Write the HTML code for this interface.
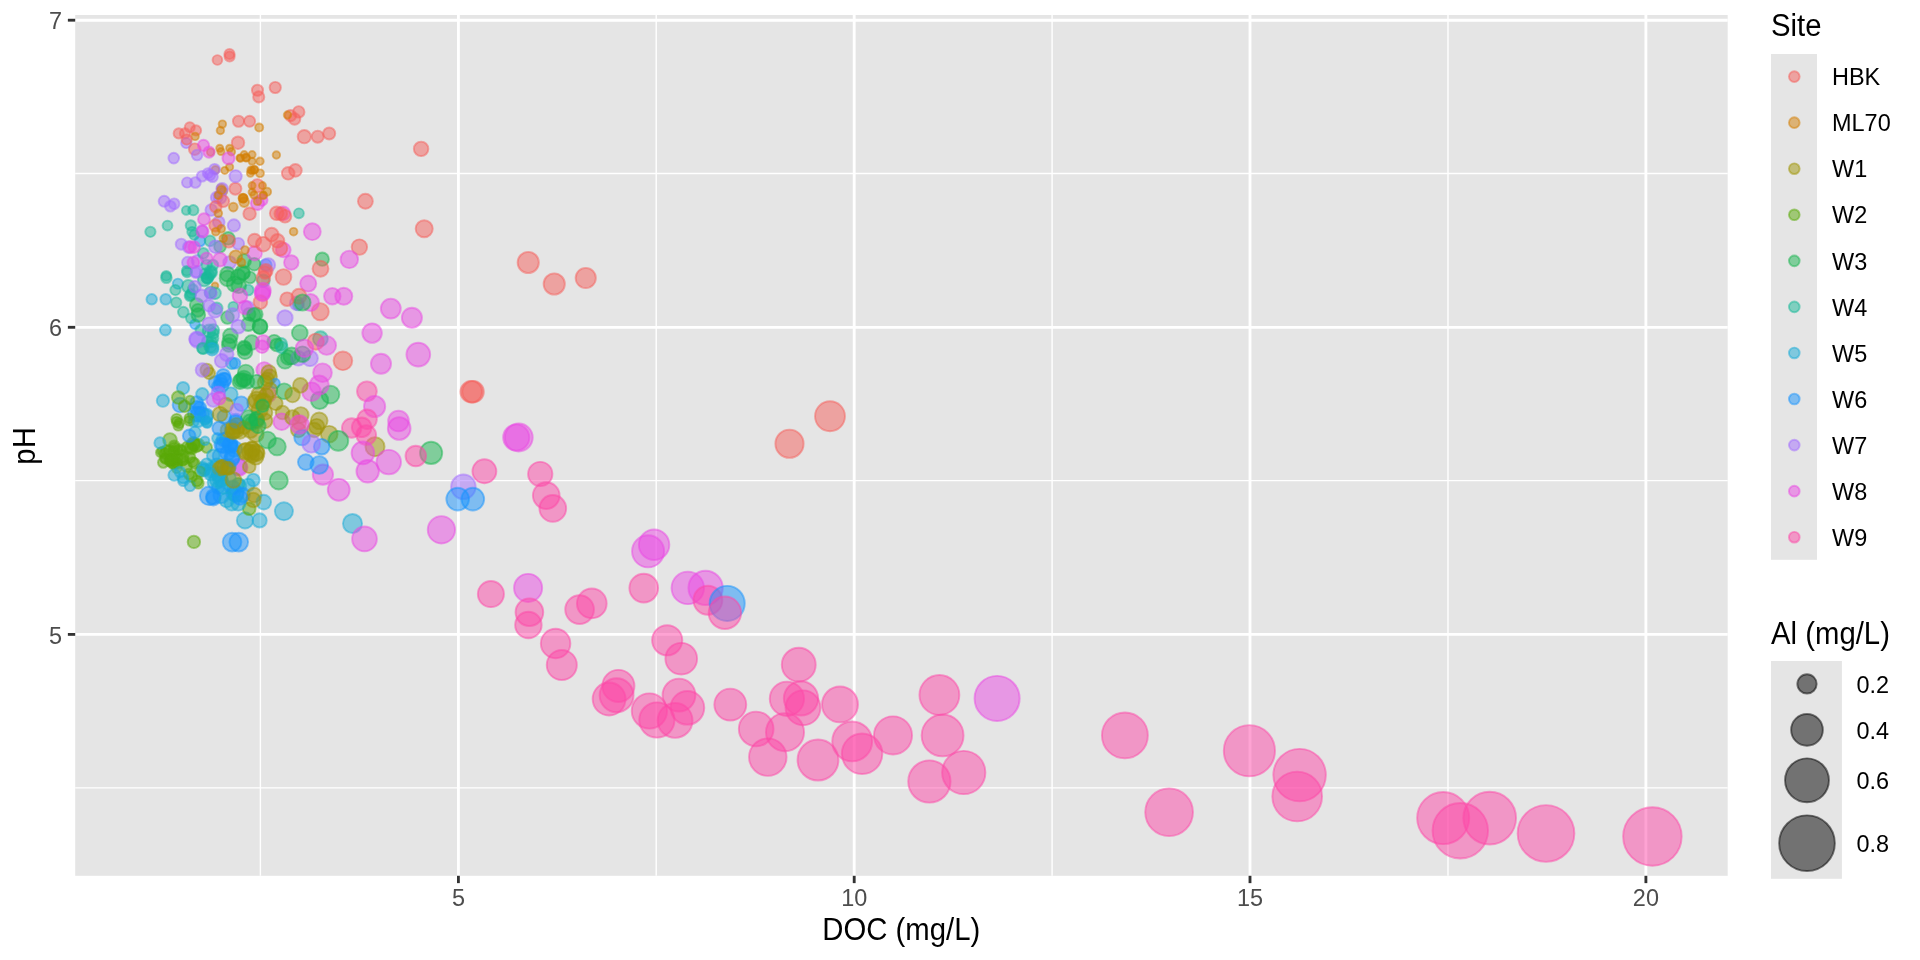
<!DOCTYPE html>
<html lang="en"><head><meta charset="utf-8"><title>pH vs DOC</title>
<style>html,body{margin:0;padding:0;background:#fff}body{width:1920px;height:960px;overflow:hidden}svg{display:block;will-change:transform}text{font-family:"Liberation Sans",Arial,Helvetica,sans-serif}.tk{font-size:23.47px;fill:#4D4D4D}.lb{font-size:23.47px;fill:#000}.tt{font-size:29.33px;fill:#000}.p circle{stroke-width:1.9;fill-opacity:0.5;stroke-opacity:0.5}
.cH{fill:#F55F5B;stroke:#F55F5B}
.cM{fill:#D37F05;stroke:#D37F05}
.c1{fill:#9F9507;stroke:#9F9507}
.c2{fill:#59A907;stroke:#59A907}
.c3{fill:#1BB551;stroke:#1BB551}
.c4{fill:#19B999;stroke:#19B999}
.c5{fill:#19ABD7;stroke:#19ABD7}
.c6{fill:#1793FD;stroke:#1793FD}
.c7{fill:#A36DFF;stroke:#A36DFF}
.c8{fill:#E949E3;stroke:#E949E3}
.c9{fill:#FE48A8;stroke:#FE48A8}
</style></head><body>
<svg width="1920" height="960" viewBox="0 0 1920 960">
<rect width="1920" height="960" fill="#fff"/>
<rect x="75.2" y="15" width="1652.5" height="860.8" fill="#E5E5E5"/>
<g stroke="#fff" stroke-width="1.42" fill="none">
<line x1="75.2" x2="1727.7" y1="173.5" y2="173.5"/>
<line x1="75.2" x2="1727.7" y1="480.6" y2="480.6"/>
<line x1="75.2" x2="1727.7" y1="787.9" y2="787.9"/>
<line x1="260.4" x2="260.4" y1="15" y2="875.8"/>
<line x1="656.2" x2="656.2" y1="15" y2="875.8"/>
<line x1="1052.1" x2="1052.1" y1="15" y2="875.8"/>
<line x1="1448" x2="1448" y1="15" y2="875.8"/>
</g><g stroke="#fff" stroke-width="2.85" fill="none">
<line x1="75.2" x2="1727.7" y1="20.2" y2="20.2"/>
<line x1="75.2" x2="1727.7" y1="327.3" y2="327.3"/>
<line x1="75.2" x2="1727.7" y1="634.4" y2="634.4"/>
<line x1="458.4" x2="458.4" y1="15" y2="875.8"/>
<line x1="854.2" x2="854.2" y1="15" y2="875.8"/>
<line x1="1250" x2="1250" y1="15" y2="875.8"/>
<line x1="1645.9" x2="1645.9" y1="15" y2="875.8"/>
</g>
<clipPath id="cp"><rect x="75.2" y="15" width="1652.5" height="860.8"/></clipPath>
<g class="p" clip-path="url(#cp)">
<circle class="c7" cx="238.3" cy="466.7" r="8.35"/>
<circle class="c8" cx="239.2" cy="467.5" r="8.35"/>
<circle class="c3" cx="220" cy="246.7" r="5.85"/>
<circle class="c6" cx="200" cy="241" r="5.35"/>
<circle class="c6" cx="265.8" cy="265" r="5.85"/>
<circle class="c4" cx="298.3" cy="305" r="5.35"/>
<circle class="cM" cx="215" cy="285.8" r="3.35"/>
<circle class="c7" cx="296.7" cy="303.3" r="6.85"/>
<circle class="c8" cx="264.2" cy="370" r="7.85"/>
<circle class="c8" cx="268.3" cy="394.2" r="7.85"/>
<circle class="c3" cx="330.4" cy="394.6" r="8.95"/>
<circle class="c3" cx="319.6" cy="400.4" r="8.65"/>
<circle class="c3" cx="238.3" cy="484.2" r="6.35"/>
<circle class="c2" cx="174" cy="451.7" r="5.55"/>
<circle class="c2" cx="165.5" cy="458.6" r="5.15"/>
<circle class="c2" cx="165" cy="458.1" r="4.75"/>
<circle class="c2" cx="177.7" cy="450.3" r="4.75"/>
<circle class="c2" cx="177.4" cy="463.9" r="4.85"/>
<circle class="c2" cx="170.6" cy="460.3" r="5.95"/>
<circle class="c2" cx="182.6" cy="456.1" r="6.05"/>
<circle class="c2" cx="172.8" cy="451.6" r="4.85"/>
<circle class="c2" cx="173.5" cy="463.7" r="4.95"/>
<circle class="c2" cx="182.8" cy="460.5" r="5.15"/>
<circle class="c2" cx="181.6" cy="450.1" r="4.75"/>
<circle class="c2" cx="170" cy="461.2" r="5.25"/>
<circle class="c2" cx="173.7" cy="459.5" r="5.25"/>
<circle class="c2" cx="173.2" cy="463.3" r="5.65"/>
<circle class="c2" cx="171.3" cy="459.3" r="5.35"/>
<circle class="c2" cx="192.8" cy="462.1" r="5.05"/>
<circle class="c2" cx="177.2" cy="462.6" r="4.85"/>
<circle class="c2" cx="179.6" cy="449.7" r="5.55"/>
<circle class="c2" cx="196.2" cy="445.9" r="6.35"/>
<circle class="c2" cx="190.8" cy="447.3" r="5.95"/>
<circle class="c2" cx="194" cy="444.5" r="6.35"/>
<circle class="c2" cx="198.3" cy="444.7" r="6.05"/>
<circle class="c2" cx="187.7" cy="447.4" r="6.05"/>
<circle class="c2" cx="166.6" cy="450.6" r="5.55"/>
<circle class="c2" cx="162.4" cy="451.5" r="4.85"/>
<circle class="c2" cx="174.3" cy="447.6" r="4.95"/>
<circle class="c5" cx="218.1" cy="487.7" r="6.25"/>
<circle class="c5" cx="220.2" cy="479.3" r="7.35"/>
<circle class="c5" cx="233.5" cy="487.5" r="6.55"/>
<circle class="c5" cx="219" cy="474.3" r="7.35"/>
<circle class="c5" cx="210.3" cy="471" r="6.45"/>
<circle class="c5" cx="221.5" cy="480.3" r="6.55"/>
<circle class="c5" cx="217.3" cy="479.7" r="7.45"/>
<circle class="c5" cx="228.9" cy="478.4" r="7.05"/>
<circle class="c5" cx="228.3" cy="466.4" r="7.45"/>
<circle class="c5" cx="232.1" cy="487.7" r="7.25"/>
<circle class="c5" cx="218.1" cy="475.4" r="6.25"/>
<circle class="c5" cx="226.8" cy="466.6" r="6.25"/>
<circle class="c5" cx="211.5" cy="469.2" r="6.65"/>
<circle class="c5" cx="217.1" cy="465.7" r="7.35"/>
<circle class="c5" cx="206.8" cy="464.4" r="6.05"/>
<circle class="c5" cx="202.6" cy="467.8" r="5.85"/>
<circle class="c5" cx="204.5" cy="469.7" r="5.75"/>
<circle class="c5" cx="193.6" cy="421.7" r="5.05"/>
<circle class="c5" cx="205.3" cy="420.3" r="4.65"/>
<circle class="c5" cx="207.2" cy="423.2" r="4.85"/>
<circle class="c6" cx="226.8" cy="439.6" r="7.35"/>
<circle class="c6" cx="229.5" cy="444.7" r="7.15"/>
<circle class="c6" cx="220" cy="456" r="7.35"/>
<circle class="c6" cx="231" cy="446.3" r="6.95"/>
<circle class="c6" cx="232.3" cy="456.7" r="7.75"/>
<circle class="c6" cx="230.3" cy="444" r="7.35"/>
<circle class="c6" cx="223.4" cy="439.6" r="6.65"/>
<circle class="c6" cx="222" cy="444.7" r="7.65"/>
<circle class="c6" cx="234.2" cy="448.8" r="7.95"/>
<circle class="c6" cx="199.8" cy="408.1" r="6.45"/>
<circle class="c6" cx="197.1" cy="407.9" r="7.05"/>
<circle class="c6" cx="201.7" cy="414.1" r="7.25"/>
<circle class="c6" cx="195.4" cy="414.2" r="7.45"/>
<circle class="c6" cx="206.5" cy="415.5" r="6.85"/>
<circle class="c6" cx="213.4" cy="498.3" r="7.15"/>
<circle class="c6" cx="221.3" cy="495.2" r="7.95"/>
<circle class="c6" cx="233.1" cy="493.4" r="6.85"/>
<circle class="c6" cx="236" cy="493.2" r="7.85"/>
<circle class="c6" cx="220.5" cy="380.7" r="6.35"/>
<circle class="c6" cx="223.5" cy="380.4" r="7.45"/>
<circle class="c6" cx="221.3" cy="385.2" r="7.35"/>
<circle class="c1" cx="232.5" cy="427.5" r="7.05"/>
<circle class="c1" cx="233.3" cy="432.2" r="7.05"/>
<circle class="c1" cx="237.9" cy="425.8" r="7.95"/>
<circle class="c1" cx="236.2" cy="430.4" r="7.45"/>
<circle class="c1" cx="250.5" cy="429.9" r="7.95"/>
<circle class="c1" cx="240" cy="431.4" r="7.35"/>
<circle class="c1" cx="227.5" cy="430.2" r="6.95"/>
<circle class="c1" cx="245.1" cy="451.7" r="8.15"/>
<circle class="c1" cx="252" cy="449.9" r="7.85"/>
<circle class="c1" cx="252" cy="455.4" r="7.25"/>
<circle class="c1" cx="252.1" cy="449" r="7.55"/>
<circle class="c1" cx="255.9" cy="452.1" r="7.95"/>
<circle class="c1" cx="255.7" cy="456.9" r="7.75"/>
<circle class="c1" cx="262" cy="402.1" r="7.85"/>
<circle class="c1" cx="263.5" cy="401.1" r="7.85"/>
<circle class="c1" cx="259.6" cy="409.9" r="8.15"/>
<circle class="c1" cx="255.7" cy="403.1" r="8.45"/>
<circle class="c1" cx="266.1" cy="395.5" r="7.35"/>
<circle class="c1" cx="259" cy="394.3" r="7.45"/>
<circle class="c1" cx="220" cy="468.4" r="7.25"/>
<circle class="c1" cx="229" cy="468.3" r="6.35"/>
<circle class="c1" cx="224.6" cy="466.9" r="7.55"/>
<circle class="c1" cx="269.7" cy="376.6" r="7.25"/>
<circle class="c1" cx="267.1" cy="379.4" r="6.95"/>
<circle class="c4" cx="207.2" cy="278.2" r="5.15"/>
<circle class="c4" cx="209.5" cy="275.4" r="5.15"/>
<circle class="c4" cx="207.3" cy="277.2" r="5.85"/>
<circle class="c4" cx="205" cy="273.7" r="5.25"/>
<circle class="c4" cx="213.2" cy="333.4" r="5.35"/>
<circle class="c4" cx="210.4" cy="346.2" r="6.25"/>
<circle class="c4" cx="209.1" cy="331" r="6.45"/>
<circle class="c4" cx="211.6" cy="342" r="5.25"/>
<circle class="c4" cx="207.5" cy="341.8" r="5.75"/>
<circle class="c4" cx="191.1" cy="293.6" r="4.75"/>
<circle class="c4" cx="192.9" cy="289.4" r="5.15"/>
<circle class="c4" cx="190.4" cy="295.1" r="5.05"/>
<circle class="c3" cx="241.1" cy="380.2" r="6.95"/>
<circle class="c3" cx="244" cy="378.4" r="7.75"/>
<circle class="c3" cx="243.6" cy="380" r="6.85"/>
<circle class="c3" cx="198" cy="310.3" r="6.45"/>
<circle class="c3" cx="251.6" cy="423.5" r="6.75"/>
<circle class="c3" cx="256.5" cy="419.5" r="7.35"/>
<circle class="c3" cx="256.7" cy="419.1" r="7.35"/>
<circle class="c3" cx="234.4" cy="284" r="7.65"/>
<circle class="c9" cx="1443.2" cy="818.1" r="26.05"/>
<circle class="c9" cx="1460.3" cy="830.7" r="27.75"/>
<circle class="c9" cx="1489.7" cy="818.1" r="26.35"/>
<circle class="c9" cx="1546" cy="833.5" r="28.35"/>
<circle class="c9" cx="1652.4" cy="836.5" r="29.25"/>
<circle class="c9" cx="1124.9" cy="735.4" r="22.95"/>
<circle class="c9" cx="1249.4" cy="750.75" r="25.6"/>
<circle class="c9" cx="1299.6" cy="775.1" r="26.25"/>
<circle class="c9" cx="1297.2" cy="796.5" r="24.85"/>
<circle class="c9" cx="1169.1" cy="812.25" r="23.85"/>
<circle class="c9" cx="798.75" cy="664.7" r="16.95"/>
<circle class="c9" cx="730.3" cy="704.6" r="15.95"/>
<circle class="c9" cx="786.9" cy="698.8" r="17.15"/>
<circle class="c9" cx="801" cy="698.4" r="17.15"/>
<circle class="c9" cx="803" cy="707.8" r="17.45"/>
<circle class="c9" cx="840" cy="704.4" r="17.95"/>
<circle class="c9" cx="756.2" cy="729" r="17.35"/>
<circle class="c9" cx="785" cy="732.2" r="19.05"/>
<circle class="c9" cx="767.8" cy="757.1" r="18.75"/>
<circle class="c9" cx="818" cy="760" r="20.45"/>
<circle class="c9" cx="852.2" cy="741.4" r="19.95"/>
<circle class="c9" cx="862.1" cy="753.75" r="20.25"/>
<circle class="c9" cx="893" cy="735.4" r="19.05"/>
<circle class="c9" cx="939.4" cy="695" r="19.95"/>
<circle class="c9" cx="942.6" cy="735.4" r="20.95"/>
<circle class="c9" cx="929.4" cy="781.5" r="21.15"/>
<circle class="c9" cx="963.75" cy="772.5" r="21.65"/>
<circle class="c8" cx="997.1" cy="698.4" r="22.55"/>
<circle class="c9" cx="528.4" cy="625" r="13.25"/>
<circle class="c9" cx="555.6" cy="643.5" r="14.75"/>
<circle class="c9" cx="561.8" cy="665" r="15.05"/>
<circle class="c9" cx="667.2" cy="640.3" r="15.1"/>
<circle class="c9" cx="681.25" cy="658.7" r="15.85"/>
<circle class="c9" cx="618.4" cy="685.9" r="16.05"/>
<circle class="c9" cx="616.6" cy="695.25" r="16.95"/>
<circle class="c9" cx="609.1" cy="699" r="16.45"/>
<circle class="c9" cx="649.4" cy="711" r="17.65"/>
<circle class="c9" cx="656.9" cy="720" r="17.65"/>
<circle class="c9" cx="675.1" cy="720.4" r="17.45"/>
<circle class="c9" cx="679" cy="695.1" r="16.45"/>
<circle class="c9" cx="687.4" cy="707.8" r="16.85"/>
<circle class="c9" cx="484.4" cy="471.25" r="11.95"/>
<circle class="c7" cx="463.4" cy="486.8" r="12.25"/>
<circle class="c6" cx="472.8" cy="499.1" r="11.35"/>
<circle class="c6" cx="457.7" cy="499.1" r="11.35"/>
<circle class="c9" cx="540.25" cy="474" r="12.15"/>
<circle class="c9" cx="546.25" cy="495.6" r="13.35"/>
<circle class="c9" cx="552.8" cy="508.4" r="13.35"/>
<circle class="c8" cx="654.1" cy="544.75" r="15.25"/>
<circle class="c8" cx="648.1" cy="551.3" r="16.05"/>
<circle class="c9" cx="490.9" cy="594.1" r="13.05"/>
<circle class="c8" cx="528.1" cy="587.9" r="14.05"/>
<circle class="c9" cx="529.4" cy="612.25" r="13.85"/>
<circle class="c9" cx="579.6" cy="609.6" r="14.35"/>
<circle class="c9" cx="591.8" cy="603.4" r="14.85"/>
<circle class="c9" cx="643.75" cy="588.1" r="14.35"/>
<circle class="c8" cx="687.8" cy="587.9" r="16.25"/>
<circle class="c8" cx="705.6" cy="587.9" r="17.15"/>
<circle class="c9" cx="707.9" cy="600.25" r="14.45"/>
<circle class="c6" cx="727.2" cy="603.4" r="17.55"/>
<circle class="c9" cx="724.9" cy="612.8" r="16.25"/>
<circle class="cH" cx="528.25" cy="262.5" r="10.6"/>
<circle class="cH" cx="554.25" cy="284" r="10.6"/>
<circle class="cH" cx="585.75" cy="278" r="10.1"/>
<circle class="cH" cx="830" cy="416.25" r="14.95"/>
<circle class="cH" cx="789.5" cy="443.75" r="14.1"/>
<circle class="cH" cx="471.25" cy="391.75" r="10.85"/>
<circle class="cH" cx="473" cy="391.75" r="10.85"/>
<circle class="c8" cx="516.25" cy="437.5" r="13.1"/>
<circle class="c8" cx="518.75" cy="437.5" r="13.95"/>
<circle class="cH" cx="217.4" cy="60" r="4.85"/>
<circle class="cH" cx="229.5" cy="54" r="5.1"/>
<circle class="cH" cx="229.6" cy="56.5" r="5.1"/>
<circle class="cH" cx="257.5" cy="90.25" r="5.6"/>
<circle class="cH" cx="258.75" cy="96.9" r="5.6"/>
<circle class="cH" cx="275.25" cy="87.5" r="5.65"/>
<circle class="cH" cx="298.75" cy="111.9" r="5.75"/>
<circle class="cH" cx="290.6" cy="115.6" r="5.65"/>
<circle class="cH" cx="294.6" cy="119" r="5.75"/>
<circle class="cM" cx="287.5" cy="115" r="3.75"/>
<circle class="cH" cx="238.5" cy="121.25" r="5.6"/>
<circle class="cH" cx="249.6" cy="121.25" r="5.55"/>
<circle class="cH" cx="304.3" cy="136.7" r="6.65"/>
<circle class="cH" cx="317.7" cy="136.7" r="6.05"/>
<circle class="cH" cx="329.2" cy="133.5" r="6.05"/>
<circle class="cM" cx="222.4" cy="124.1" r="3.75"/>
<circle class="cM" cx="220.4" cy="130.5" r="3.75"/>
<circle class="cM" cx="259.2" cy="127.5" r="4.05"/>
<circle class="cH" cx="189.8" cy="127.3" r="5.05"/>
<circle class="cH" cx="196" cy="130.4" r="5.15"/>
<circle class="cH" cx="178.75" cy="133.4" r="5.15"/>
<circle class="cH" cx="185" cy="133.4" r="5.15"/>
<circle class="cM" cx="195.1" cy="136.4" r="3.75"/>
<circle class="c7" cx="186.25" cy="143" r="5.15"/>
<circle class="cH" cx="186.7" cy="139.5" r="5.15"/>
<circle class="cH" cx="194.75" cy="149.2" r="5.85"/>
<circle class="cH" cx="238" cy="142.7" r="6.25"/>
<circle class="cH" cx="288.2" cy="173.3" r="6.35"/>
<circle class="cH" cx="295.4" cy="170.4" r="6.35"/>
<circle class="cH" cx="235.4" cy="188.75" r="6.05"/>
<circle class="cH" cx="257.5" cy="185.8" r="6.65"/>
<circle class="cM" cx="210.6" cy="152.1" r="3.75"/>
<circle class="cM" cx="219.75" cy="148.3" r="3.55"/>
<circle class="cM" cx="221" cy="151.5" r="3.55"/>
<circle class="cM" cx="229.6" cy="148.3" r="3.55"/>
<circle class="cM" cx="231.4" cy="151.8" r="3.75"/>
<circle class="cM" cx="240" cy="157.9" r="3.55"/>
<circle class="cM" cx="244.2" cy="154.6" r="3.55"/>
<circle class="cM" cx="246.25" cy="157.9" r="3.75"/>
<circle class="cM" cx="252.1" cy="154.6" r="3.55"/>
<circle class="cM" cx="252.1" cy="161.25" r="3.55"/>
<circle class="cM" cx="260" cy="161.25" r="3.75"/>
<circle class="cM" cx="276.4" cy="155" r="3.75"/>
<circle class="cM" cx="215.4" cy="170" r="3.95"/>
<circle class="cM" cx="224.75" cy="170.4" r="3.55"/>
<circle class="cM" cx="229.6" cy="167.1" r="3.65"/>
<circle class="cM" cx="250.8" cy="170" r="3.55"/>
<circle class="cM" cx="254.2" cy="170" r="3.75"/>
<circle class="cM" cx="250.4" cy="173.3" r="3.55"/>
<circle class="cM" cx="260" cy="173.3" r="3.95"/>
<circle class="cM" cx="221.25" cy="188.3" r="4.35"/>
<circle class="cM" cx="223.3" cy="191.25" r="3.95"/>
<circle class="cM" cx="217.9" cy="195" r="3.55"/>
<circle class="cM" cx="252.1" cy="185.6" r="3.55"/>
<circle class="cM" cx="262.5" cy="185.6" r="3.55"/>
<circle class="cM" cx="252.1" cy="192.1" r="3.55"/>
<circle class="cM" cx="267.1" cy="191.7" r="4.05"/>
<circle class="cM" cx="243.1" cy="198" r="4.35"/>
<circle class="cM" cx="263.3" cy="195" r="3.55"/>
<circle class="c7" cx="173.75" cy="158.1" r="5.35"/>
<circle class="c7" cx="197.1" cy="155" r="5.35"/>
<circle class="c7" cx="187.1" cy="182.5" r="5.15"/>
<circle class="c7" cx="195.4" cy="182.5" r="5.35"/>
<circle class="c7" cx="202.1" cy="176.25" r="5.35"/>
<circle class="c7" cx="207.9" cy="173.3" r="5.15"/>
<circle class="c7" cx="212.5" cy="176.7" r="5.35"/>
<circle class="c7" cx="214.6" cy="169.2" r="5.35"/>
<circle class="c7" cx="210" cy="175" r="5.35"/>
<circle class="c7" cx="235.6" cy="176.25" r="6.15"/>
<circle class="c7" cx="222.1" cy="188.75" r="5.85"/>
<circle class="c7" cx="216.7" cy="197.5" r="5.85"/>
<circle class="c8" cx="203.5" cy="145.4" r="5.6"/>
<circle class="c8" cx="209" cy="152.1" r="5.6"/>
<circle class="c8" cx="228.5" cy="158.3" r="6.05"/>
<circle class="cH" cx="421.1" cy="148.9" r="7.25"/>
<circle class="c7" cx="164.2" cy="201.25" r="5.55"/>
<circle class="c7" cx="170.4" cy="206.25" r="5.35"/>
<circle class="c7" cx="174.2" cy="203.75" r="5.35"/>
<circle class="c7" cx="211.25" cy="210" r="5.85"/>
<circle class="c7" cx="218.75" cy="222.1" r="5.85"/>
<circle class="c7" cx="233.9" cy="225.4" r="6.15"/>
<circle class="c7" cx="181.25" cy="244.2" r="5.55"/>
<circle class="c7" cx="188.75" cy="247.1" r="5.85"/>
<circle class="c7" cx="202.1" cy="230.8" r="5.65"/>
<circle class="c7" cx="238.3" cy="243.75" r="5.85"/>
<circle class="c7" cx="187.9" cy="262.5" r="5.85"/>
<circle class="c7" cx="197.5" cy="260.8" r="5.85"/>
<circle class="c7" cx="229.6" cy="262.5" r="6.35"/>
<circle class="c7" cx="268.3" cy="265" r="6.85"/>
<circle class="c7" cx="220" cy="197.5" r="6.35"/>
<circle class="c7" cx="196.7" cy="271.7" r="5.85"/>
<circle class="c4" cx="186.25" cy="210.4" r="4.35"/>
<circle class="c4" cx="193.3" cy="210.2" r="5.15"/>
<circle class="c4" cx="150.4" cy="231.8" r="5.15"/>
<circle class="c4" cx="167.5" cy="225.6" r="4.95"/>
<circle class="c4" cx="190.8" cy="225.4" r="5.15"/>
<circle class="c4" cx="192.1" cy="231.7" r="4.85"/>
<circle class="c4" cx="194.2" cy="235" r="4.85"/>
<circle class="c4" cx="210" cy="240.8" r="5.35"/>
<circle class="c4" cx="298.9" cy="213.3" r="4.95"/>
<circle class="c4" cx="203.3" cy="253.3" r="5.35"/>
<circle class="c4" cx="206.7" cy="265" r="5.35"/>
<circle class="c4" cx="212.9" cy="265" r="5.35"/>
<circle class="c4" cx="186.7" cy="270.8" r="4.85"/>
<circle class="c4" cx="166.25" cy="275.8" r="4.85"/>
<circle class="c4" cx="210.8" cy="272.5" r="5.35"/>
<circle class="c3" cx="228.3" cy="238.3" r="6.35"/>
<circle class="c3" cx="244.2" cy="260.8" r="6.85"/>
<circle class="c3" cx="254.2" cy="264.2" r="6.35"/>
<circle class="c3" cx="227.5" cy="274.2" r="7.35"/>
<circle class="c3" cx="242.5" cy="272.5" r="7.35"/>
<circle class="c8" cx="204" cy="219.2" r="5.95"/>
<circle class="c8" cx="202.5" cy="231.7" r="5.95"/>
<circle class="c8" cx="190.4" cy="247.1" r="5.85"/>
<circle class="c8" cx="194.2" cy="247.1" r="5.85"/>
<circle class="c8" cx="254.6" cy="253.3" r="7.15"/>
<circle class="c8" cx="257.5" cy="203.3" r="6.65"/>
<circle class="c8" cx="261.7" cy="200" r="5.85"/>
<circle class="c8" cx="283.3" cy="213.3" r="6.85"/>
<circle class="c8" cx="283.3" cy="250" r="7.35"/>
<circle class="c8" cx="291.3" cy="262.5" r="7.25"/>
<circle class="c8" cx="193.3" cy="262.5" r="5.85"/>
<circle class="c8" cx="220" cy="259.6" r="6.85"/>
<circle class="c8" cx="206.7" cy="258.3" r="5.85"/>
<circle class="cH" cx="249.6" cy="213.75" r="6.25"/>
<circle class="cH" cx="276.7" cy="213.3" r="6.85"/>
<circle class="cH" cx="285" cy="216.25" r="6.35"/>
<circle class="cH" cx="280.8" cy="213.75" r="6.35"/>
<circle class="cH" cx="215.8" cy="206.7" r="5.85"/>
<circle class="cH" cx="223.3" cy="201.25" r="5.85"/>
<circle class="cH" cx="215.4" cy="225.4" r="6.15"/>
<circle class="cH" cx="228.75" cy="241.25" r="6.35"/>
<circle class="cH" cx="254.6" cy="240.4" r="6.65"/>
<circle class="cH" cx="263.3" cy="244.2" r="7.35"/>
<circle class="cH" cx="271.7" cy="234.6" r="6.85"/>
<circle class="cH" cx="277.5" cy="240.8" r="6.85"/>
<circle class="cH" cx="280" cy="248.3" r="7.35"/>
<circle class="cH" cx="265.8" cy="270.8" r="6.85"/>
<circle class="cH" cx="283.5" cy="277" r="7.85"/>
<circle class="cM" cx="257.5" cy="201.25" r="3.85"/>
<circle class="cM" cx="233.3" cy="207.1" r="4.35"/>
<circle class="cM" cx="242.9" cy="198.3" r="4.35"/>
<circle class="cM" cx="244.2" cy="202.1" r="4.85"/>
<circle class="cM" cx="218.3" cy="213.3" r="3.85"/>
<circle class="cM" cx="221.25" cy="228.75" r="3.85"/>
<circle class="cM" cx="215.8" cy="231.7" r="3.85"/>
<circle class="cM" cx="223.3" cy="238.3" r="3.85"/>
<circle class="cM" cx="293.6" cy="231.7" r="3.85"/>
<circle class="cM" cx="235.8" cy="256.7" r="6.35"/>
<circle class="cM" cx="241.25" cy="262.5" r="4.15"/>
<circle class="cM" cx="245" cy="250" r="3.85"/>
<circle class="cM" cx="218.3" cy="195.4" r="3.65"/>
<circle class="cM" cx="263.3" cy="195.4" r="3.65"/>
<circle class="cM" cx="254" cy="195" r="3.65"/>
<circle class="cH" cx="365.4" cy="201.25" r="7.45"/>
<circle class="c8" cx="312.3" cy="231.7" r="8.45"/>
<circle class="cH" cx="424.2" cy="228.75" r="8.55"/>
<circle class="cH" cx="359.4" cy="247.1" r="7.75"/>
<circle class="c8" cx="349.3" cy="259.4" r="8.75"/>
<circle class="c3" cx="322.25" cy="259.2" r="6.65"/>
<circle class="cH" cx="320.5" cy="268.75" r="7.95"/>
<circle class="c5" cx="151.7" cy="299.3" r="5.25"/>
<circle class="c5" cx="165.7" cy="299.3" r="5.35"/>
<circle class="c5" cx="165.4" cy="330" r="5.45"/>
<circle class="c5" cx="177.9" cy="283.75" r="5.15"/>
<circle class="c6" cx="195" cy="324.2" r="4.85"/>
<circle class="c4" cx="166.4" cy="277.75" r="5.35"/>
<circle class="c4" cx="187.1" cy="272.5" r="4.85"/>
<circle class="c4" cx="175.4" cy="290" r="5.15"/>
<circle class="c4" cx="176.25" cy="302.5" r="5.15"/>
<circle class="c4" cx="183.3" cy="312.1" r="5.35"/>
<circle class="c4" cx="188.3" cy="286.25" r="6.35"/>
<circle class="c4" cx="190" cy="295.8" r="5.35"/>
<circle class="c4" cx="190.8" cy="318.3" r="4.85"/>
<circle class="c4" cx="204.2" cy="280" r="6.35"/>
<circle class="c4" cx="207.5" cy="278.3" r="5.35"/>
<circle class="c4" cx="210.8" cy="272.1" r="6.35"/>
<circle class="c4" cx="215" cy="293.3" r="5.85"/>
<circle class="c4" cx="210.4" cy="292.5" r="5.85"/>
<circle class="c4" cx="216.7" cy="308.3" r="5.85"/>
<circle class="c4" cx="248.3" cy="290" r="5.35"/>
<circle class="c4" cx="233.3" cy="306.7" r="4.85"/>
<circle class="c4" cx="200.8" cy="330" r="5.35"/>
<circle class="c4" cx="213.3" cy="330" r="5.85"/>
<circle class="c4" cx="212.5" cy="338.3" r="5.85"/>
<circle class="c4" cx="212.1" cy="347.1" r="6.35"/>
<circle class="c4" cx="203.3" cy="348.3" r="5.85"/>
<circle class="c4" cx="280.8" cy="344.2" r="6.35"/>
<circle class="c4" cx="263.3" cy="280.8" r="6.35"/>
<circle class="c3" cx="227.5" cy="278.3" r="7.85"/>
<circle class="c3" cx="238.3" cy="276.7" r="7.35"/>
<circle class="c3" cx="238.75" cy="285.8" r="7.35"/>
<circle class="c3" cx="243.3" cy="273.3" r="6.35"/>
<circle class="c3" cx="250" cy="277.5" r="5.85"/>
<circle class="c3" cx="196.7" cy="305" r="6.85"/>
<circle class="c3" cx="198.3" cy="315" r="6.85"/>
<circle class="c3" cx="227.5" cy="317.5" r="6.35"/>
<circle class="c3" cx="249.2" cy="314.2" r="6.35"/>
<circle class="c3" cx="255.8" cy="314.2" r="6.85"/>
<circle class="c3" cx="248.3" cy="324.2" r="6.85"/>
<circle class="c3" cx="260" cy="326.7" r="7.35"/>
<circle class="c3" cx="230.4" cy="335.8" r="7.35"/>
<circle class="c3" cx="229.6" cy="341.7" r="7.35"/>
<circle class="c3" cx="251.7" cy="342.5" r="7.35"/>
<circle class="c3" cx="244.2" cy="347.5" r="6.85"/>
<circle class="c3" cx="274.2" cy="341.7" r="6.85"/>
<circle class="c7" cx="195.8" cy="272.5" r="5.35"/>
<circle class="c7" cx="195" cy="286.7" r="5.85"/>
<circle class="c7" cx="201.7" cy="295.8" r="6.35"/>
<circle class="c7" cx="210.8" cy="293.3" r="5.85"/>
<circle class="c7" cx="209.2" cy="305.8" r="5.85"/>
<circle class="c7" cx="215" cy="310.8" r="6.85"/>
<circle class="c7" cx="209.2" cy="324.2" r="6.85"/>
<circle class="c7" cx="232.5" cy="315" r="6.85"/>
<circle class="c7" cx="238.3" cy="326.7" r="6.85"/>
<circle class="c7" cx="285" cy="317.9" r="7.65"/>
<circle class="c7" cx="197.5" cy="340" r="7.85"/>
<circle class="c7" cx="196.5" cy="339" r="7.35"/>
<circle class="c7" cx="247.5" cy="307.5" r="6.35"/>
<circle class="c8" cx="240" cy="295.8" r="7.35"/>
<circle class="c8" cx="262.5" cy="292.5" r="7.85"/>
<circle class="c8" cx="245" cy="307.5" r="6.85"/>
<circle class="c8" cx="263.3" cy="342.5" r="7.35"/>
<circle class="cH" cx="263.3" cy="277.9" r="6.85"/>
<circle class="cH" cx="265" cy="272.5" r="6.35"/>
<circle class="cH" cx="260.4" cy="302.1" r="6.85"/>
<circle class="cH" cx="287.1" cy="299.2" r="6.85"/>
<circle class="c8" cx="308.2" cy="283.6" r="8.05"/>
<circle class="c8" cx="332.3" cy="296.25" r="8.25"/>
<circle class="c8" cx="343.75" cy="296.25" r="8.55"/>
<circle class="c8" cx="390.8" cy="308.6" r="9.95"/>
<circle class="c8" cx="411.9" cy="317.75" r="10.05"/>
<circle class="c8" cx="372.1" cy="333.1" r="9.75"/>
<circle class="cH" cx="320.25" cy="311.7" r="8.55"/>
<circle class="cH" cx="299" cy="296.25" r="7.45"/>
<circle class="c8" cx="310.4" cy="302.5" r="8.55"/>
<circle class="c3" cx="302.5" cy="302.5" r="8.1"/>
<circle class="c3" cx="299.8" cy="332.9" r="7.85"/>
<circle class="c4" cx="320.4" cy="338.75" r="7.45"/>
<circle class="cH" cx="315.8" cy="341.7" r="8.1"/>
<circle class="c8" cx="326.7" cy="345.5" r="9.35"/>
<circle class="c5" cx="162.9" cy="400.7" r="6.15"/>
<circle class="c5" cx="183.1" cy="388.1" r="6.15"/>
<circle class="c5" cx="202.3" cy="394.2" r="6.15"/>
<circle class="c5" cx="212.1" cy="349.2" r="6.35"/>
<circle class="c5" cx="231.7" cy="363.3" r="5.85"/>
<circle class="c5" cx="230.8" cy="394.2" r="6.85"/>
<circle class="c5" cx="205" cy="416.7" r="7.35"/>
<circle class="c6" cx="223.3" cy="375.8" r="6.85"/>
<circle class="c6" cx="215" cy="382.5" r="6.35"/>
<circle class="c6" cx="225" cy="379.2" r="6.35"/>
<circle class="c6" cx="218.3" cy="386.7" r="6.35"/>
<circle class="c6" cx="180" cy="405" r="7.35"/>
<circle class="c6" cx="196.7" cy="402.5" r="6.35"/>
<circle class="c6" cx="198.3" cy="414.2" r="7.35"/>
<circle class="c6" cx="241.25" cy="403.75" r="7.35"/>
<circle class="c6" cx="224.2" cy="416.7" r="6.85"/>
<circle class="c6" cx="235" cy="363.3" r="5.35"/>
<circle class="c6" cx="275" cy="383.3" r="4.85"/>
<circle class="c6" cx="235.8" cy="420" r="6.35"/>
<circle class="c2" cx="178.3" cy="397.5" r="6.35"/>
<circle class="c2" cx="184.6" cy="406.25" r="5.85"/>
<circle class="c2" cx="189.2" cy="418.3" r="4.85"/>
<circle class="c2" cx="176.7" cy="419.2" r="5.35"/>
<circle class="c2" cx="179.2" cy="423.3" r="4.85"/>
<circle class="c2" cx="190" cy="400" r="4.35"/>
<circle class="c1" cx="206.7" cy="370" r="6.35"/>
<circle class="c1" cx="209.2" cy="373.3" r="5.85"/>
<circle class="c1" cx="268.75" cy="372.5" r="7.35"/>
<circle class="c1" cx="265" cy="382.5" r="7.35"/>
<circle class="c1" cx="270" cy="390" r="7.35"/>
<circle class="c1" cx="256.7" cy="400" r="8.35"/>
<circle class="c1" cx="275.8" cy="403.3" r="6.85"/>
<circle class="c1" cx="282.5" cy="412.5" r="6.85"/>
<circle class="c1" cx="265" cy="412.5" r="7.35"/>
<circle class="c1" cx="225.8" cy="405" r="7.35"/>
<circle class="c1" cx="220" cy="414.2" r="7.35"/>
<circle class="c1" cx="235.8" cy="424.2" r="6.35"/>
<circle class="c3" cx="245" cy="351.7" r="7.35"/>
<circle class="c3" cx="228.75" cy="345" r="6.85"/>
<circle class="c3" cx="245.8" cy="372.5" r="7.85"/>
<circle class="c3" cx="240" cy="381.7" r="7.35"/>
<circle class="c3" cx="247.5" cy="381.7" r="6.85"/>
<circle class="c3" cx="256.7" cy="381.7" r="6.85"/>
<circle class="c3" cx="285" cy="360.8" r="7.85"/>
<circle class="c3" cx="288.3" cy="357.5" r="7.35"/>
<circle class="c3" cx="284.2" cy="391.25" r="7.85"/>
<circle class="c3" cx="276.7" cy="345" r="6.35"/>
<circle class="c3" cx="248.3" cy="417.5" r="7.35"/>
<circle class="c3" cx="256.7" cy="420.8" r="7.35"/>
<circle class="c3" cx="262.5" cy="405.8" r="6.35"/>
<circle class="c4" cx="202.5" cy="348.3" r="5.35"/>
<circle class="c4" cx="281.7" cy="347.5" r="5.85"/>
<circle class="c7" cx="226.7" cy="354.2" r="6.85"/>
<circle class="c7" cx="221.7" cy="360.8" r="6.85"/>
<circle class="c7" cx="202.5" cy="370" r="6.85"/>
<circle class="c7" cx="218.3" cy="393.3" r="6.85"/>
<circle class="c7" cx="213.3" cy="400" r="6.85"/>
<circle class="c7" cx="236.7" cy="410" r="6.35"/>
<circle class="c8" cx="262.1" cy="346.7" r="6.35"/>
<circle class="c8" cx="219.2" cy="398.3" r="6.35"/>
<circle class="c8" cx="281.7" cy="421.7" r="8.35"/>
<circle class="c8" cx="418.3" cy="354.6" r="11.85"/>
<circle class="c8" cx="381" cy="363.75" r="10.05"/>
<circle class="cH" cx="342.9" cy="360.8" r="9.35"/>
<circle class="c7" cx="310" cy="358.3" r="7.85"/>
<circle class="c7" cx="298.3" cy="358.3" r="7.35"/>
<circle class="c3" cx="302.5" cy="354.2" r="7.85"/>
<circle class="c3" cx="291.7" cy="355.8" r="8.35"/>
<circle class="c8" cx="322.5" cy="372.75" r="9.35"/>
<circle class="c8" cx="319.2" cy="385" r="9.6"/>
<circle class="c8" cx="311.5" cy="391.7" r="9.35"/>
<circle class="c1" cx="300.4" cy="385.4" r="7.35"/>
<circle class="c1" cx="292.5" cy="395" r="7.35"/>
<circle class="c9" cx="366.9" cy="391.25" r="9.85"/>
<circle class="c8" cx="374.6" cy="406.5" r="10.6"/>
<circle class="c9" cx="367.1" cy="419.2" r="9.75"/>
<circle class="c9" cx="351.7" cy="428" r="9.75"/>
<circle class="c9" cx="361.7" cy="427.3" r="9.85"/>
<circle class="c8" cx="398.5" cy="421" r="10.35"/>
<circle class="c8" cx="399.2" cy="428.5" r="11.35"/>
<circle class="c1" cx="300.8" cy="415" r="7.85"/>
<circle class="c1" cx="292.5" cy="417.5" r="7.35"/>
<circle class="c1" cx="319.2" cy="420.8" r="8.35"/>
<circle class="c1" cx="316.7" cy="426.5" r="7.65"/>
<circle class="c2" cx="178.3" cy="425.8" r="4.85"/>
<circle class="c2" cx="176.7" cy="421.7" r="4.85"/>
<circle class="c2" cx="189.2" cy="420.8" r="4.85"/>
<circle class="c2" cx="170" cy="440" r="6.85"/>
<circle class="c2" cx="174.2" cy="445.8" r="5.35"/>
<circle class="c2" cx="160.8" cy="452.5" r="4.85"/>
<circle class="c2" cx="165" cy="453.3" r="5.35"/>
<circle class="c2" cx="169.2" cy="450.8" r="5.35"/>
<circle class="c2" cx="163.3" cy="462.5" r="5.35"/>
<circle class="c2" cx="171.7" cy="459.2" r="5.35"/>
<circle class="c2" cx="177.5" cy="458.3" r="5.35"/>
<circle class="c2" cx="183.3" cy="459.2" r="5.35"/>
<circle class="c2" cx="190" cy="457.5" r="5.35"/>
<circle class="c2" cx="193.3" cy="443.3" r="6.35"/>
<circle class="c2" cx="191.7" cy="449.2" r="5.35"/>
<circle class="c2" cx="206.7" cy="447.5" r="5.35"/>
<circle class="c2" cx="194.2" cy="463.3" r="5.35"/>
<circle class="c2" cx="176.7" cy="468.3" r="4.85"/>
<circle class="c2" cx="191.7" cy="476.7" r="5.35"/>
<circle class="c2" cx="198.3" cy="483.3" r="5.35"/>
<circle class="c2" cx="200" cy="471.7" r="5.35"/>
<circle class="c2" cx="186.7" cy="466.7" r="5.35"/>
<circle class="c5" cx="160" cy="442.9" r="5.65"/>
<circle class="c5" cx="174.2" cy="475" r="5.85"/>
<circle class="c5" cx="183.3" cy="480.8" r="5.35"/>
<circle class="c5" cx="190" cy="485.8" r="5.35"/>
<circle class="c5" cx="195" cy="432.5" r="5.85"/>
<circle class="c5" cx="205" cy="440.8" r="4.35"/>
<circle class="c5" cx="217.5" cy="438.3" r="5.35"/>
<circle class="c5" cx="213.3" cy="455.8" r="6.35"/>
<circle class="c5" cx="203.3" cy="470" r="6.35"/>
<circle class="c5" cx="210.8" cy="474.2" r="6.35"/>
<circle class="c5" cx="215" cy="482.5" r="7.35"/>
<circle class="c5" cx="223.3" cy="486.7" r="7.35"/>
<circle class="c5" cx="253.3" cy="480" r="6.35"/>
<circle class="c5" cx="248.3" cy="485" r="6.35"/>
<circle class="c5" cx="240" cy="485.8" r="6.35"/>
<circle class="c5" cx="235.8" cy="495" r="7.35"/>
<circle class="c5" cx="198.3" cy="421.7" r="5.35"/>
<circle class="c5" cx="206.7" cy="421.7" r="5.35"/>
<circle class="c6" cx="189.2" cy="435.8" r="6.35"/>
<circle class="c6" cx="219.2" cy="428.3" r="6.85"/>
<circle class="c6" cx="223.3" cy="445.8" r="7.35"/>
<circle class="c6" cx="227.5" cy="453.3" r="7.35"/>
<circle class="c6" cx="231.7" cy="459.2" r="7.35"/>
<circle class="c6" cx="233.3" cy="446.7" r="4.35"/>
<circle class="c6" cx="209.2" cy="495.8" r="9.35"/>
<circle class="c6" cx="213.3" cy="496.7" r="7.35"/>
<circle class="c6" cx="242.5" cy="495" r="7.35"/>
<circle class="c6" cx="235.8" cy="421.7" r="6.35"/>
<circle class="c1" cx="232.5" cy="430.8" r="7.35"/>
<circle class="c1" cx="244.2" cy="427.5" r="6.35"/>
<circle class="c1" cx="255.8" cy="434.2" r="7.85"/>
<circle class="c1" cx="245.8" cy="450.8" r="7.85"/>
<circle class="c1" cx="250" cy="452.5" r="7.85"/>
<circle class="c1" cx="256.7" cy="453.3" r="7.85"/>
<circle class="c1" cx="249.2" cy="466.7" r="6.35"/>
<circle class="c1" cx="221.7" cy="466.7" r="6.85"/>
<circle class="c1" cx="227.5" cy="468.3" r="6.35"/>
<circle class="c1" cx="233.3" cy="480" r="7.85"/>
<circle class="c1" cx="254.2" cy="495" r="7.35"/>
<circle class="c1" cx="265" cy="420.8" r="7.35"/>
<circle class="c3" cx="267.5" cy="440" r="8.35"/>
<circle class="c3" cx="277.1" cy="446.7" r="8.65"/>
<circle class="c3" cx="278.75" cy="480.4" r="9.05"/>
<circle class="c3" cx="258.3" cy="425.8" r="7.35"/>
<circle class="c3" cx="250" cy="421.7" r="7.35"/>
<circle class="c1" cx="329.2" cy="434.2" r="8.35"/>
<circle class="c1" cx="314.2" cy="430" r="7.35"/>
<circle class="c1" cx="298.3" cy="430" r="7.35"/>
<circle class="c1" cx="375" cy="446.7" r="9.55"/>
<circle class="c3" cx="338.3" cy="440.8" r="9.95"/>
<circle class="c3" cx="431.1" cy="452.9" r="11.1"/>
<circle class="c9" cx="415.8" cy="456" r="10.25"/>
<circle class="c9" cx="366.25" cy="435" r="9.85"/>
<circle class="c8" cx="362.9" cy="452.9" r="11.35"/>
<circle class="c8" cx="388.75" cy="462.1" r="12.25"/>
<circle class="c8" cx="367.7" cy="471.25" r="11.25"/>
<circle class="c8" cx="322.9" cy="474.6" r="10.15"/>
<circle class="c8" cx="338.75" cy="489.8" r="10.95"/>
<circle class="c6" cx="302.1" cy="437.5" r="7.85"/>
<circle class="c6" cx="321.7" cy="446.7" r="7.85"/>
<circle class="c6" cx="305.8" cy="462.1" r="7.85"/>
<circle class="c6" cx="319.2" cy="465" r="8.85"/>
<circle class="c7" cx="311.25" cy="443.75" r="8.85"/>
<circle class="c2" cx="193.9" cy="541.9" r="6.25"/>
<circle class="c6" cx="232.1" cy="542.1" r="9.35"/>
<circle class="c6" cx="238.75" cy="542.1" r="9.35"/>
<circle class="c5" cx="245" cy="520.4" r="8.15"/>
<circle class="c5" cx="259.6" cy="520.4" r="7.15"/>
<circle class="c5" cx="283.9" cy="511.25" r="9.05"/>
<circle class="c5" cx="263.75" cy="502.1" r="7.35"/>
<circle class="c2" cx="249.2" cy="508.75" r="6.35"/>
<circle class="c1" cx="253.3" cy="500" r="7.35"/>
<circle class="c5" cx="231.7" cy="503.3" r="7.35"/>
<circle class="c5" cx="238.3" cy="503.3" r="7.35"/>
<circle class="c5" cx="226.7" cy="500" r="7.35"/>
<circle class="c6" cx="240" cy="497.5" r="7.35"/>
<circle class="c5" cx="352.5" cy="523.5" r="9.55"/>
<circle class="c8" cx="364.5" cy="538.9" r="12.35"/>
<circle class="c8" cx="441.4" cy="529.8" r="13.65"/>
<circle class="cM" cx="240.5" cy="158.3" r="3.55"/>
<circle class="cM" cx="246" cy="157.5" r="3.75"/>
<circle class="cM" cx="252" cy="170.5" r="3.55"/>
<circle class="cM" cx="254.5" cy="169.5" r="3.65"/>
<circle class="cM" cx="243.5" cy="198.5" r="4.15"/>
<circle class="cM" cx="221.5" cy="190" r="4.15"/>
<circle class="c3" cx="254" cy="315" r="6.85"/>
<circle class="c3" cx="260" cy="326.5" r="7.35"/>
<circle class="c3" cx="244.5" cy="348.5" r="6.85"/>
<circle class="c8" cx="263" cy="290.5" r="7.85"/>
<circle class="c8" cx="262.5" cy="294" r="7.35"/>
<circle class="c2" cx="197" cy="481" r="5.35"/>
<circle class="c2" cx="189" cy="474" r="5.35"/>
<circle class="c5" cx="183" cy="478" r="5.35"/>
<circle class="c5" cx="180" cy="472" r="5.35"/>
<circle class="cH" cx="299.2" cy="422.8" r="6.85"/>
<circle class="c7" cx="215.4" cy="246.7" r="6.35"/>
<circle class="c8" cx="304.5" cy="348.3" r="8.75"/>
<circle class="c8" cx="299.5" cy="424.5" r="9.35"/>
</g>
<g stroke="#333" stroke-width="2.85">
<line x1="67.87" x2="75.2" y1="20.2" y2="20.2"/>
<line x1="67.87" x2="75.2" y1="327.3" y2="327.3"/>
<line x1="67.87" x2="75.2" y1="634.4" y2="634.4"/>
<line x1="458.4" x2="458.4" y1="875.8" y2="883.13"/>
<line x1="854.2" x2="854.2" y1="875.8" y2="883.13"/>
<line x1="1250" x2="1250" y1="875.8" y2="883.13"/>
<line x1="1645.9" x2="1645.9" y1="875.8" y2="883.13"/>
</g>
<text class="tk" transform="translate(62.1,29.3) scale(1,1.045)" text-anchor="end">7</text>
<text class="tk" transform="translate(62.1,336.4) scale(1,1.045)" text-anchor="end">6</text>
<text class="tk" transform="translate(62.1,643.5) scale(1,1.045)" text-anchor="end">5</text>
<text class="tk" transform="translate(458.4,905.8) scale(1,1.045)" text-anchor="middle">5</text>
<text class="tk" transform="translate(854.2,905.8) scale(1,1.045)" text-anchor="middle">10</text>
<text class="tk" transform="translate(1250,905.8) scale(1,1.045)" text-anchor="middle">15</text>
<text class="tk" transform="translate(1645.9,905.8) scale(1,1.045)" text-anchor="middle">20</text>
<text class="tt" transform="translate(901.3,940) scale(1,1.045)" text-anchor="middle">DOC (mg/L)</text>
<text class="tt" transform="translate(35.2,445.9) rotate(-90) scale(1,1.045)" text-anchor="middle">pH</text>
<text class="tt" transform="translate(1771,35.6) scale(1,1.045)">Site</text>
<rect x="1771" y="54" width="46" height="505.8" fill="#E5E5E5"/>
<g class="p">
<circle class="cH" cx="1794.3" cy="76.6" r="5.35"/>
<circle class="cM" cx="1794.3" cy="122.66" r="5.35"/>
<circle class="c1" cx="1794.3" cy="168.72" r="5.35"/>
<circle class="c2" cx="1794.3" cy="214.78" r="5.35"/>
<circle class="c3" cx="1794.3" cy="260.84" r="5.35"/>
<circle class="c4" cx="1794.3" cy="306.9" r="5.35"/>
<circle class="c5" cx="1794.3" cy="352.96" r="5.35"/>
<circle class="c6" cx="1794.3" cy="399.02" r="5.35"/>
<circle class="c7" cx="1794.3" cy="445.08" r="5.35"/>
<circle class="c8" cx="1794.3" cy="491.14" r="5.35"/>
<circle class="c9" cx="1794.3" cy="537.2" r="5.35"/>
</g>
<text class="lb" transform="translate(1832,85.3) scale(1,1.045)">HBK</text>
<text class="lb" transform="translate(1832,131.36) scale(1,1.045)">ML70</text>
<text class="lb" transform="translate(1832,177.42) scale(1,1.045)">W1</text>
<text class="lb" transform="translate(1832,223.48) scale(1,1.045)">W2</text>
<text class="lb" transform="translate(1832,269.54) scale(1,1.045)">W3</text>
<text class="lb" transform="translate(1832,315.6) scale(1,1.045)">W4</text>
<text class="lb" transform="translate(1832,361.66) scale(1,1.045)">W5</text>
<text class="lb" transform="translate(1832,407.72) scale(1,1.045)">W6</text>
<text class="lb" transform="translate(1832,453.78) scale(1,1.045)">W7</text>
<text class="lb" transform="translate(1832,499.84) scale(1,1.045)">W8</text>
<text class="lb" transform="translate(1832,545.9) scale(1,1.045)">W9</text>
<text class="tt" transform="translate(1771,643.5) scale(1,1.045)">Al (mg/L)</text>
<rect x="1771" y="661" width="70.9" height="217.8" fill="#E5E5E5"/>
<g fill="#000" stroke="#000" stroke-width="1.9" fill-opacity="0.5" stroke-opacity="0.5">
<circle cx="1807" cy="683.9" r="9.65"/>
<circle cx="1807" cy="729.9" r="15.85"/>
<circle cx="1807" cy="780.3" r="21.95"/>
<circle cx="1807" cy="843.2" r="27.85"/>
</g>
<text class="lb" transform="translate(1856.5,692.5) scale(1,1.045)">0.2</text>
<text class="lb" transform="translate(1856.5,738.5) scale(1,1.045)">0.4</text>
<text class="lb" transform="translate(1856.5,788.9) scale(1,1.045)">0.6</text>
<text class="lb" transform="translate(1856.5,851.8) scale(1,1.045)">0.8</text>
</svg></body></html>
